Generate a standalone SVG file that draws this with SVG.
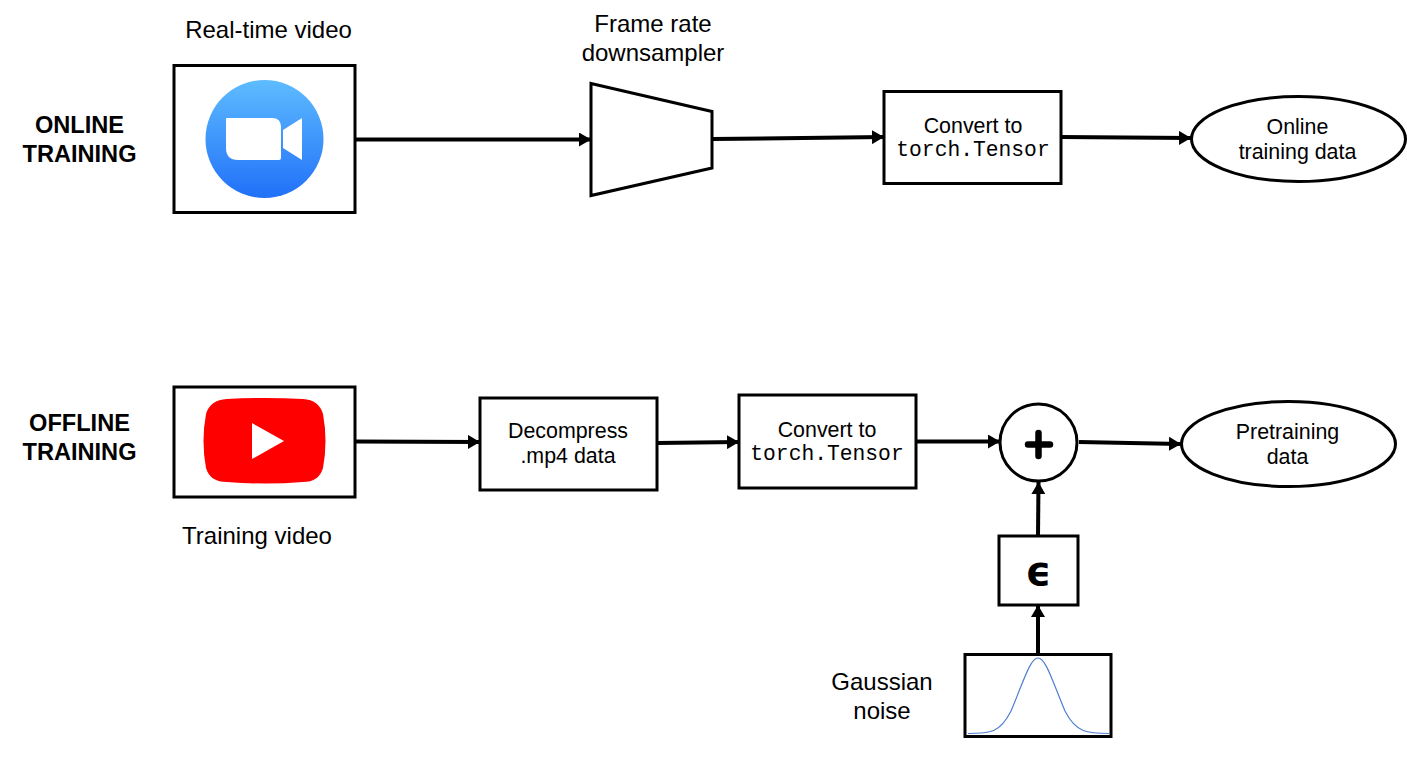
<svg xmlns="http://www.w3.org/2000/svg" width="1407" height="758" viewBox="0 0 1407 758">
<defs>
<style>
.s{fill:#fff;stroke:#000;stroke-width:3}
.t{font-family:"Liberation Sans",Arial,sans-serif;font-size:21.4px;fill:#000;text-anchor:middle}
.l{font-size:24px}
.b{font-size:23.6px;font-weight:bold}
.m{font-family:"Liberation Mono","Courier New",monospace;font-size:21.3px;fill:#000;text-anchor:middle}
.c{fill:none;stroke:#000;stroke-width:4}
</style>
<marker id="a" markerUnits="userSpaceOnUse" markerWidth="12" markerHeight="14" refX="12" refY="7" orient="auto"><path d="M0 0L12 7L0 14Z" fill="#000"/></marker>
<linearGradient id="z" x1="0" y1="0" x2="0" y2="1"><stop offset="0" stop-color="#5ebcff"/><stop offset="1" stop-color="#2170f8"/></linearGradient>
</defs>
<rect width="1407" height="758" fill="#fff"/>
<g id="label-online"><text class="t b" x="79.500" y="133">ONLINE</text><text class="t b" x="79.500" y="162">TRAINING</text></g>
<g id="label-offline"><text class="t b" x="79.500" y="431">OFFLINE</text><text class="t b" x="79.500" y="460">TRAINING</text></g>
<g id="connectors">
<path class="c" marker-end="url(#a)" d="M355 139.500H591"/>
<path class="c" marker-end="url(#a)" d="M712 139L884 137"/>
<path class="c" marker-end="url(#a)" d="M1061 137L1191 138"/>
<path class="c" marker-end="url(#a)" d="M355 441.500L480 442"/>
<path class="c" marker-end="url(#a)" d="M657 443L739 442"/>
<path class="c" marker-end="url(#a)" d="M916 441.500H1000"/>
<path class="c" marker-end="url(#a)" d="M1079 442L1181 444"/>
<path class="c" marker-end="url(#a)" d="M1038 536L1038.500 482"/>
<path class="c" marker-end="url(#a)" d="M1038 654V605"/>
</g>
<g id="zoom"><rect class="s" x="174" y="65.500" width="181" height="147"/><circle cx="264.500" cy="139" r="59" fill="url(#z)"/><path fill="#fff" d="M227 118H272Q281 118 281 127V158Q281 160 279 160H238Q226 160 226 148V119Q226 118 227 118Z"/><path fill="#fff" d="M283 130L302 118V160L283 148Z"/></g>
<g id="youtube"><rect class="s" x="174" y="387" width="181" height="110"/><path fill="#f00" d="M227 399Q265 397 303 399Q319 400 323 414Q328 441 323 468Q319 482 303 482Q265 485 227 482Q210 482 206 468Q201 441 206 414Q210 400 227 399Z"/><path fill="#fff" d="M252 423L284 441L252 459Z"/></g>
<g id="downsampler"><path class="s" d="M591 83.500L712 111.500V168L591 195.500Z"/><text class="t l" x="653" y="32">Frame rate</text><text class="t l" x="653" y="61">downsampler</text></g>
<g id="convert1"><rect class="s" x="884" y="91.500" width="177" height="92"/><text class="t" x="973" y="133">Convert to</text><text class="m" x="973" y="156">torch.Tensor</text></g>
<g id="online-data"><ellipse class="s" cx="1298.500" cy="139" rx="107" ry="42.500"/><text class="t" x="1297.500" y="134">Online</text><text class="t" x="1297.500" y="159">training data</text></g>
<g id="decompress"><rect class="s" x="480" y="398" width="177" height="92"/><text class="t" x="568" y="438">Decompress</text><text class="t" x="568" y="463">.mp4 data</text></g>
<g id="convert2"><rect class="s" x="739" y="395" width="177" height="93"/><text class="t" x="827" y="437">Convert to</text><text class="m" x="827" y="460">torch.Tensor</text></g>
<g id="adder"><circle class="s" cx="1038.500" cy="442.500" r="38.500"/><path d="M1038.500 433V456M1028 444.500H1050" fill="none" stroke="#000" stroke-width="6.500" stroke-linecap="round"/></g>
<g id="pretraining"><ellipse class="s" cx="1288.500" cy="444" rx="107" ry="42.500"/><text class="t" x="1287.500" y="439">Pretraining</text><text class="t" x="1287.500" y="464">data</text></g>
<g id="epsilon"><rect class="s" x="999" y="536" width="79" height="69"/><text x="1038.500" y="585" style="font-family:'DejaVu Sans',sans-serif;font-size:40px;font-weight:bold;text-anchor:middle">ϵ</text></g>
<g id="gaussian"><rect class="s" x="965" y="654.500" width="146" height="82"/><path fill="none" stroke="#4f7fd0" stroke-width="1.200" d="M968 733.500C990 733.500 1000 733 1011 711C1023 683 1030 658 1038 658C1046 658 1053 683 1065 711C1076 733 1088 733.500 1109 733.500"/><text class="t l" x="882" y="690">Gaussian</text><text class="t l" x="882" y="719">noise</text></g>
<g id="captions"><text class="t l" x="268.500" y="38">Real-time video</text><text class="t l" x="257" y="544">Training video</text></g>
</svg>
